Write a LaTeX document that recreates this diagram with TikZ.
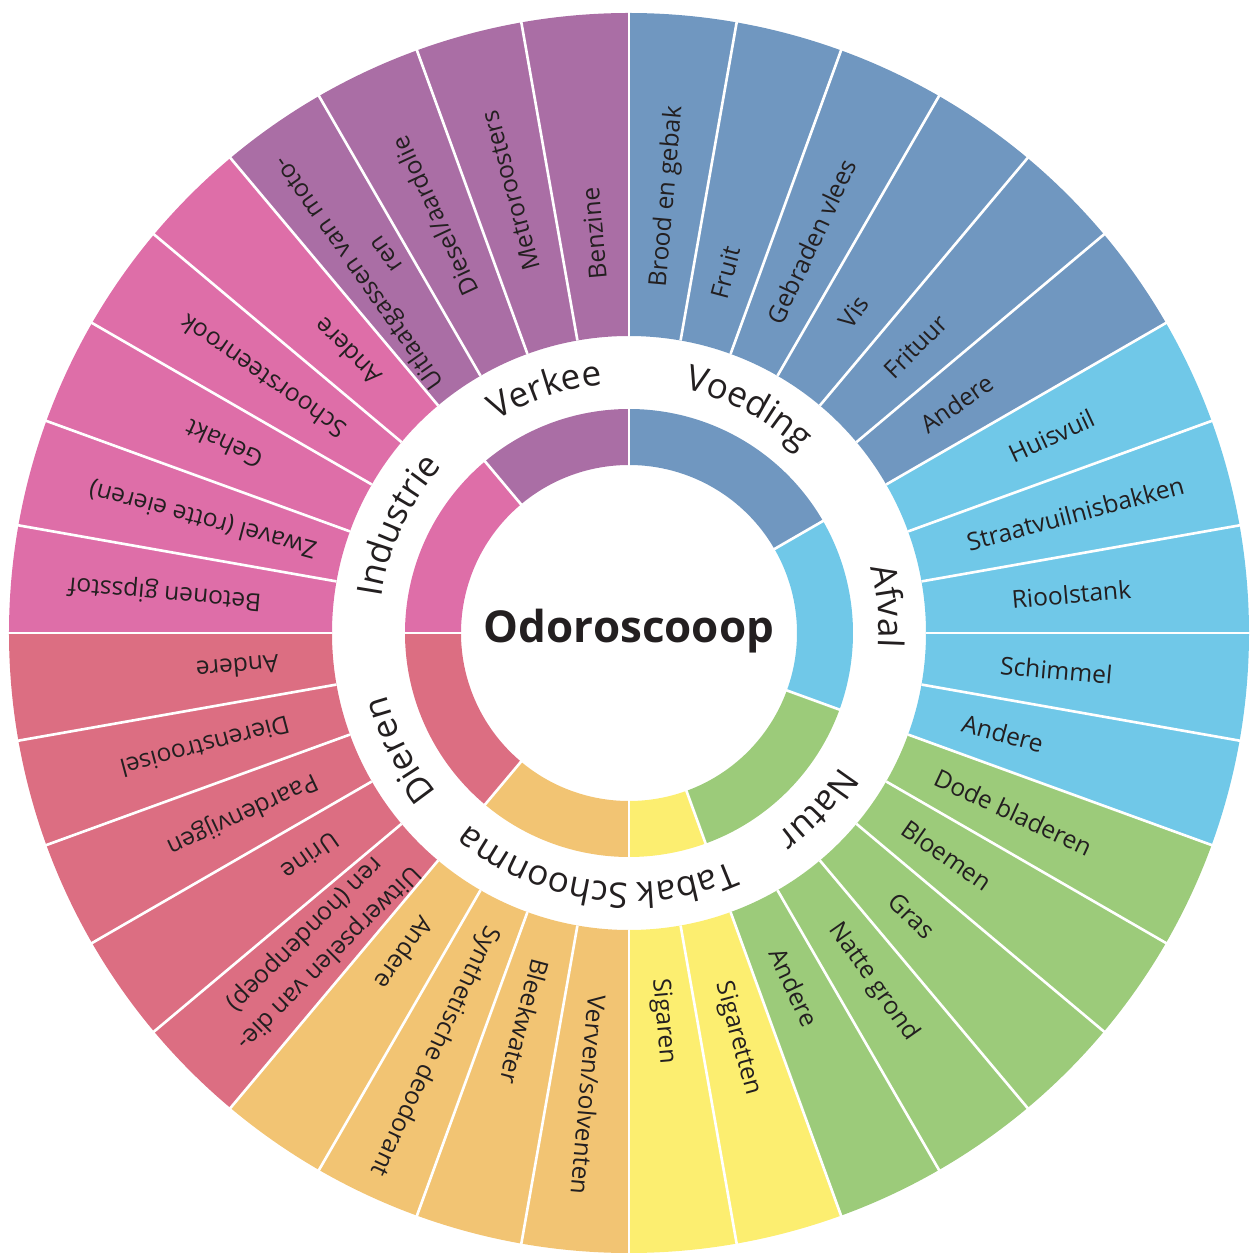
\documentclass[tikz,border=0pt]{standalone}
\usepackage{fontspec}
\setmainfont{Open Sans}
\usetikzlibrary{decorations.text}
\definecolor{voedingkleur}{RGB}{112,151,192}
\definecolor{verkeerkleur}{RGB}{170,110,165}
\definecolor{industriekleur}{RGB}{222,110,168}
\definecolor{dierenkleur}{RGB}{220,110,130}
\definecolor{schoonkleur}{RGB}{242,196,115}
\definecolor{tabakkleur}{RGB}{252,238,112}
\definecolor{natuurkleur}{RGB}{156,203,122}
\definecolor{afvalkleur}{RGB}{112,200,232}
\definecolor{tekstkleur}{RGB}{35,31,32}
\newcommand\categoriefont{\fontsize{20}{24}\selectfont}

\begin{document}
\begin{tikzpicture}
    % Stijlen
    \tikzset{
        geur/.style={font=\fontsize{14}{19}\selectfont, text=tekstkleur, align=center, inner sep=0pt},
        scheiding/.style={white, line width=1.5pt},
        categorie/.style={decorate, decoration={text along path, text align=center, text color=tekstkleur}},
        titel/.style={font=\fontsize{25}{30}\selectfont\bfseries, text=tekstkleur}
    }
    \useasboundingbox (-12.58,-12.4) rectangle (12.48,12.66);

    % Buitenring
    \fill[voedingkleur] (30:5.94) arc[start angle=30, end angle=90, radius=5.94] -- (90:12.4) arc[start angle=90, end angle=30, radius=12.4] -- cycle;
    \fill[verkeerkleur] (90:5.94) arc[start angle=90, end angle=130, radius=5.94] -- (130:12.4) arc[start angle=130, end angle=90, radius=12.4] -- cycle;
    \fill[industriekleur] (130:5.94) arc[start angle=130, end angle=180, radius=5.94] -- (180:12.4) arc[start angle=180, end angle=130, radius=12.4] -- cycle;
    \fill[dierenkleur] (180:5.94) arc[start angle=180, end angle=230, radius=5.94] -- (230:12.4) arc[start angle=230, end angle=180, radius=12.4] -- cycle;
    \fill[schoonkleur] (230:5.94) arc[start angle=230, end angle=270, radius=5.94] -- (270:12.4) arc[start angle=270, end angle=230, radius=12.4] -- cycle;
    \fill[tabakkleur] (270:5.94) arc[start angle=270, end angle=290, radius=5.94] -- (290:12.4) arc[start angle=290, end angle=270, radius=12.4] -- cycle;
    \fill[natuurkleur] (290:5.94) arc[start angle=290, end angle=340, radius=5.94] -- (340:12.4) arc[start angle=340, end angle=290, radius=12.4] -- cycle;
    \fill[afvalkleur] (340:5.94) arc[start angle=340, end angle=390, radius=5.94] -- (390:12.4) arc[start angle=390, end angle=340, radius=12.4] -- cycle;
    \foreach \a in {0,10,...,350}
        \draw[scheiding] (\a:5.94) -- (\a:12.45);

    % Binnenring
    \fill[voedingkleur] (30:3.36) arc[start angle=30, end angle=90, radius=3.36] -- (90:4.48) arc[start angle=90, end angle=30, radius=4.48] -- cycle;
    \fill[verkeerkleur] (90:3.36) arc[start angle=90, end angle=130, radius=3.36] -- (130:4.48) arc[start angle=130, end angle=90, radius=4.48] -- cycle;
    \fill[industriekleur] (130:3.36) arc[start angle=130, end angle=180, radius=3.36] -- (180:4.48) arc[start angle=180, end angle=130, radius=4.48] -- cycle;
    \fill[dierenkleur] (180:3.36) arc[start angle=180, end angle=230, radius=3.36] -- (230:4.48) arc[start angle=230, end angle=180, radius=4.48] -- cycle;
    \fill[schoonkleur] (230:3.36) arc[start angle=230, end angle=270, radius=3.36] -- (270:4.48) arc[start angle=270, end angle=230, radius=4.48] -- cycle;
    \fill[tabakkleur] (270:3.36) arc[start angle=270, end angle=290, radius=3.36] -- (290:4.48) arc[start angle=290, end angle=270, radius=4.48] -- cycle;
    \fill[natuurkleur] (290:3.36) arc[start angle=290, end angle=340, radius=3.36] -- (340:4.48) arc[start angle=340, end angle=290, radius=4.48] -- cycle;
    \fill[afvalkleur] (340:3.36) arc[start angle=340, end angle=390, radius=3.36] -- (390:4.48) arc[start angle=390, end angle=340, radius=4.48] -- cycle;
    \foreach \a in {30,90,130,180,230,270,290,340}
        \draw[scheiding] (\a:3.3) -- (\a:4.52);

    % Titel
    \node[titel] (titel) at (0,0.04) {Odoroscooop};

    % Categorieen
    \path[categorie, decoration={text={|\categoriefont|Verkee}}] (149:5) arc[start angle=149, end angle=69, radius=5];
    \path[categorie, decoration={text={|\categoriefont|Voeding}}] (102:5) arc[start angle=102, end angle=22, radius=5];
    \path[categorie, decoration={text={|\categoriefont|Afval}}] (46:5) arc[start angle=46, end angle=-34, radius=5];
    \path[categorie, decoration={text={|\categoriefont|Natur}}] (357:5) arc[start angle=357, end angle=277, radius=5];
    \path[categorie, decoration={text={|\categoriefont|Tabak}}] (323:5) arc[start angle=323, end angle=243, radius=5];
    \path[categorie, decoration={text={|\categoriefont|Schoonma}}] (290:5) arc[start angle=290, end angle=210, radius=5];
    \path[categorie, decoration={text={|\categoriefont|Dieren}}] (247:5) arc[start angle=247, end angle=167, radius=5];
    \path[categorie, decoration={text={|\categoriefont|Industrie}}] (195:5) arc[start angle=195, end angle=115, radius=5];

    % Voeding
    \node[geur, rotate=85] (brood) at (85:8.76) {Brood en gebak};
    \node[geur, rotate=75] (fruit) at (75:7.46) {Fruit};
    \node[geur, rotate=65] (vlees) at (65:8.64) {Gebraden vlees};
    \node[geur, rotate=55] (vis) at (55:7.84) {Vis};
    \node[geur, rotate=45] (frituur) at (45:8.1) {Frituur};
    \node[geur, rotate=35] (anderevoeding) at (35:8) {Andere};

    % Afval
    \node[geur, rotate=25] (huisvuil) at (25:9.32) {Huisvuil};
    \node[geur, rotate=15] (straat) at (15:9.24) {Straatvuilnisbakken};
    \node[geur, rotate=5] (riool) at (5:8.88) {Rioolstank};
    \node[geur, rotate=-5] (schimmel) at (-5:8.58) {Schimmel};
    \node[geur, rotate=-15] (andereafval) at (-15:7.74) {Andere};

    % Natuur
    \node[geur, rotate=-25] (bladeren) at (-25:8.48) {Dode bladeren};
    \node[geur, rotate=-35] (bloemen) at (-35:7.76) {Bloemen};
    \node[geur, rotate=-45] (gras) at (-45:8) {Gras};
    \node[geur, rotate=-55] (grond) at (-55:8.52) {Natte grond};
    \node[geur, rotate=-65] (anderenatuur) at (-65:7.82) {Andere};

    % Tabak
    \node[geur, rotate=-75] (sigaretten) at (-75:8.4) {Sigaretten};
    \node[geur, rotate=-85] (sigaren) at (-85:7.8) {Sigaren};

    % Schoonmaak
    \node[geur, rotate=265] (verven) at (265:9.28) {Verven/solventen};
    \node[geur, rotate=255] (bleekwater) at (255:8.04) {Bleekwater};
    \node[geur, rotate=245] (deodorant) at (245:9.22) {Synthetische deodorant};
    \node[geur, rotate=235] (andereschoon) at (235:7.82) {Andere};

    % Dieren
    \node[geur, rotate=225] (uitwerpselen) at (225:8.84) {Uitwerpselen van die-\\ren (hondenpoep)};
    \node[geur, rotate=215] (urine) at (215:7.78) {Urine};
    \node[geur, rotate=205] (paarden) at (205:8.54) {Paardenvijgen};
    \node[geur, rotate=195] (strooisel) at (195:8.78) {Dierenstrooisel};
    \node[geur, rotate=185] (anderedieren) at (185:7.86) {Andere};

    % Industrie
    \node[geur, rotate=175] (beton) at (175:9.32) {Betonen gipsstof};
    \node[geur, rotate=165] (zwavel) at (165:8.82) {Zwavel (rotte eieren)};
    \node[geur, rotate=155] (gehakt) at (155:8.94) {Gehakt};
    \node[geur, rotate=145] (schoorsteen) at (145:8.94) {Schoorsteenrook};
    \node[geur, rotate=135] (andereindustrie) at (135:7.96) {Andere};

    % Verkeer
    \node[geur, rotate=125] (uitlaat) at (125:9) {Uitlaatgassen van moto-\\ren};
    \node[geur, rotate=115] (diesel) at (115:9.2) {Diesel/aardolie};
    \node[geur, rotate=105] (metro) at (105:9.16) {Metroroosters};
    \node[geur, rotate=95] (benzine) at (95:8.02) {Benzine};
\end{tikzpicture}
\end{document}
